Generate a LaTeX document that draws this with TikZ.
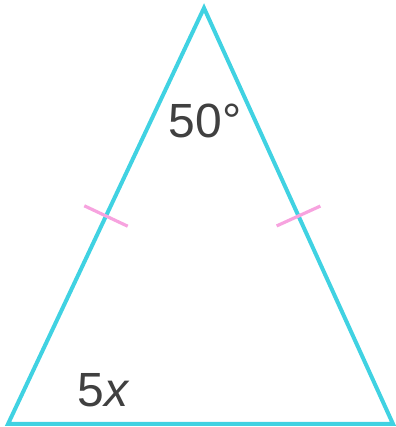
\documentclass[tikz,border=0pt]{standalone}
\usepackage{amsmath, amssymb}
\usepackage{fontspec}
\setmainfont{Liberation Sans}
\usepackage{tikz}
\usetikzlibrary{calc}
\definecolor{sideCyan}{HTML}{40D2E2}
\definecolor{tickPink}{HTML}{F7A3DF}
\colorlet{labelGray}{black!75}
\tikzset{angleLbl/.style={font=\fontsize{24}{28}\selectfont, labelGray}}

\begin{document}
\begin{tikzpicture}[x=0.5pt, y=0.5pt]
  \useasboundingbox (0,0) rectangle (395,427);
  % corners of the isosceles triangle
  \coordinate (A) at (8,3);
  \coordinate (B) at (393,3);
  \coordinate (C) at (204,419);
  % sides
  \draw[sideCyan, line width=2pt, line join=miter] (A) -- (B) -- (C) -- cycle;
  % congruence ticks on the two equal sides
  \coordinate (mL) at ($(A)!0.5!(C)$);
  \coordinate (mR) at ($(B)!0.5!(C)$);
  \draw[tickPink, line width=1.6pt] ($(mL)!12pt!90:(C)$) -- ($(mL)!12pt!-90:(C)$);
  \draw[tickPink, line width=1.6pt] ($(mR)!12pt!90:(C)$) -- ($(mR)!12pt!-90:(C)$);
  % angle labels
  \node[angleLbl] (apexLbl) at (205,306) {50\textdegree};
  \node[angleLbl] (baseLbl) at (104,37) {5\textit{x}};
\end{tikzpicture}
\end{document}
